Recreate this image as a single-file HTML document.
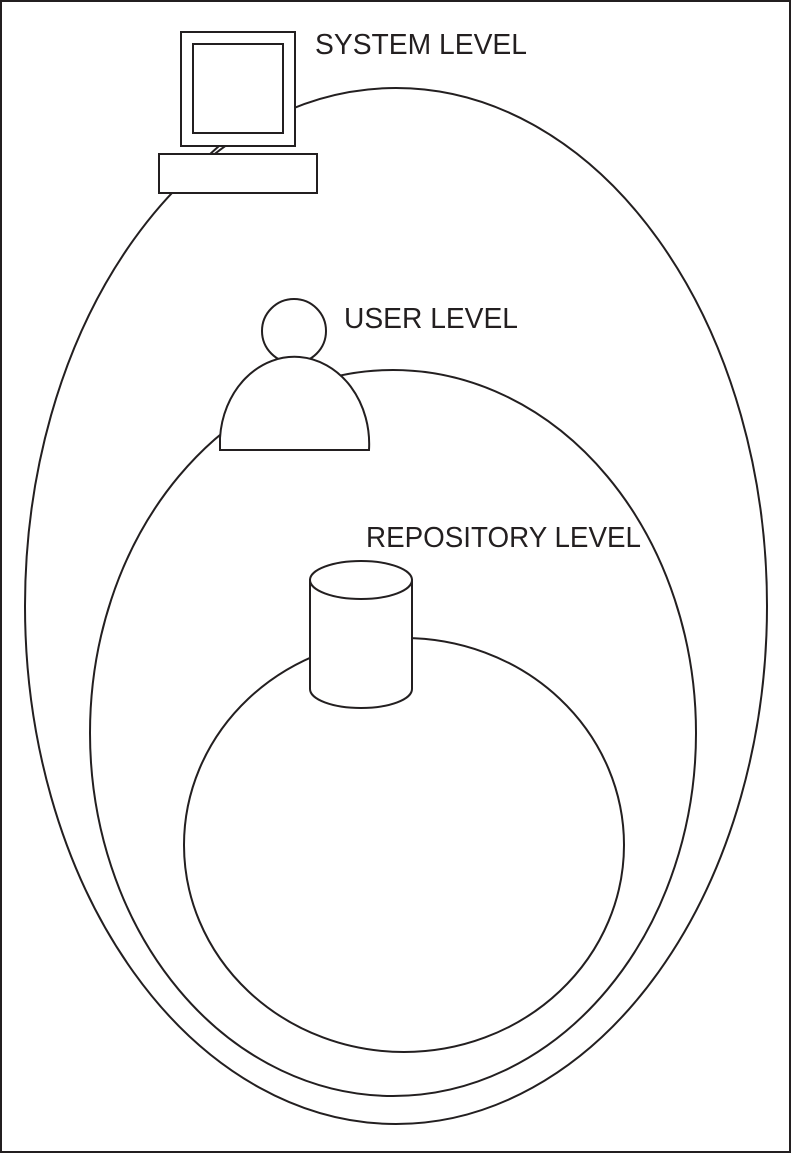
<!DOCTYPE html>
<html><head><style>html,body{margin:0;padding:0;background:#fff}svg{display:block}</style></head>
<body>
<svg width="791" height="1153" viewBox="0 0 791 1153" xmlns="http://www.w3.org/2000/svg">
<g fill="#fff" stroke="#231f20" stroke-width="2">
<rect x="1" y="1" width="789" height="1151"/>
<ellipse cx="396" cy="606" rx="371" ry="518"/>
<ellipse cx="393" cy="733" rx="303" ry="363"/>
<ellipse cx="404" cy="845" rx="220" ry="207"/>
<rect x="181" y="32" width="114" height="114"/>
<rect x="193" y="44" width="90" height="89"/>
<line x1="219" y1="146" x2="209" y2="155"/>
<rect x="159" y="154" width="158" height="39"/>
<circle cx="294" cy="331" r="32"/>
<path d="M220 450 L220 438 A74.5 87 0 0 1 369 450 Z"/>
<path d="M310 580 L310 689 A51 19 0 0 0 412 689 L412 580 Z"/>
<ellipse cx="361" cy="580" rx="51" ry="19"/>
</g>
<g font-family="'Liberation Sans', sans-serif" font-size="29" fill="#231f20">
<text x="315" y="54" textLength="212" lengthAdjust="spacingAndGlyphs">SYSTEM LEVEL</text>
<text x="344" y="328" textLength="174" lengthAdjust="spacingAndGlyphs">USER LEVEL</text>
<text x="366" y="547" textLength="275" lengthAdjust="spacingAndGlyphs">REPOSITORY LEVEL</text>
</g>
</svg>
</body></html>
